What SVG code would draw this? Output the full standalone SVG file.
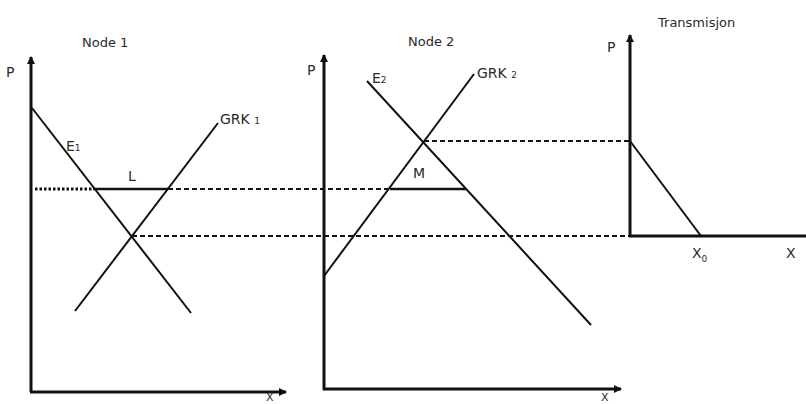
<svg xmlns="http://www.w3.org/2000/svg" width="806" height="404" viewBox="0 0 806 404">
<style>
.axis{stroke:#111;stroke-width:3;fill:none}
.curve{stroke:#111;stroke-width:2;fill:none}
.seg{stroke:#111;stroke-width:2.5;fill:none}
.dash{stroke:#111;stroke-width:2;stroke-dasharray:5,3;fill:none}
.dot{stroke:#111;stroke-width:3;stroke-dasharray:2.5,2;fill:none}
text{font-family:"DejaVu Sans","Liberation Sans",sans-serif;fill:#2a2a2a;font-size:14px}
.t{font-size:13px}
.sub{font-size:9px}
.xl{font-size:11px}
</style>
<defs>
<marker id="ah" viewBox="0 0 8 8" refX="7" refY="4" markerWidth="8" markerHeight="8" markerUnits="userSpaceOnUse" orient="auto">
<path d="M0,0 L8,4 L0,8 Z" fill="#111"/>
</marker>
</defs>
<rect width="806" height="404" fill="#fff"/>
<g id="connectors">
<line class="dot" x1="35" y1="189" x2="93" y2="189"/>
<line class="seg" x1="93" y1="189" x2="168" y2="189"/>
<line class="dash" x1="168" y1="189" x2="390" y2="189"/>
<line class="seg" x1="390" y1="189" x2="466" y2="189"/>
<line class="dash" x1="132" y1="236" x2="630" y2="236"/>
<line class="dash" x1="424" y1="141" x2="630" y2="141"/>
</g>
<g id="node1">
<path class="axis" d="M31,392 V57" marker-end="url(#ah)"/>
<path class="axis" d="M30,392 H286" marker-end="url(#ah)"/>
<line class="curve" x1="32" y1="108" x2="191" y2="313"/>
<line class="curve" x1="75" y1="311" x2="218" y2="123"/>
<text class="t" x="82" y="47">Node 1</text>
<text x="6" y="77">P</text>
<text class="xl" x="266" y="401">X</text>
<text x="66" y="151">E<tspan class="sub">1</tspan></text>
<text x="128" y="181">L</text>
<text x="220" y="124">GRK <tspan class="sub">1</tspan></text>
</g>
<g id="node2">
<path class="axis" d="M324,390 V55" marker-end="url(#ah)"/>
<path class="axis" d="M323,389 H621" marker-end="url(#ah)"/>
<line class="curve" x1="367" y1="81" x2="591" y2="325"/>
<line class="curve" x1="324" y1="276" x2="474" y2="74"/>
<text class="t" x="408" y="46">Node 2</text>
<text x="307" y="75">P</text>
<text class="xl" x="601" y="401">X</text>
<text x="372" y="83">E<tspan class="sub">2</tspan></text>
<text x="413" y="178">M</text>
<text x="477" y="78">GRK <tspan class="sub">2</tspan></text>
</g>
<g id="transmisjon">
<path class="axis" d="M630,237 V35" marker-end="url(#ah)"/>
<line class="axis" x1="629" y1="236" x2="806" y2="236"/>
<line class="curve" x1="630" y1="141" x2="701" y2="236"/>
<text class="t" x="658" y="27">Transmisjon</text>
<text x="607" y="52">P</text>
<text x="692" y="258">X<tspan class="sub" dy="4">0</tspan></text>
<text x="786" y="258">X</text>
</g>
</svg>
